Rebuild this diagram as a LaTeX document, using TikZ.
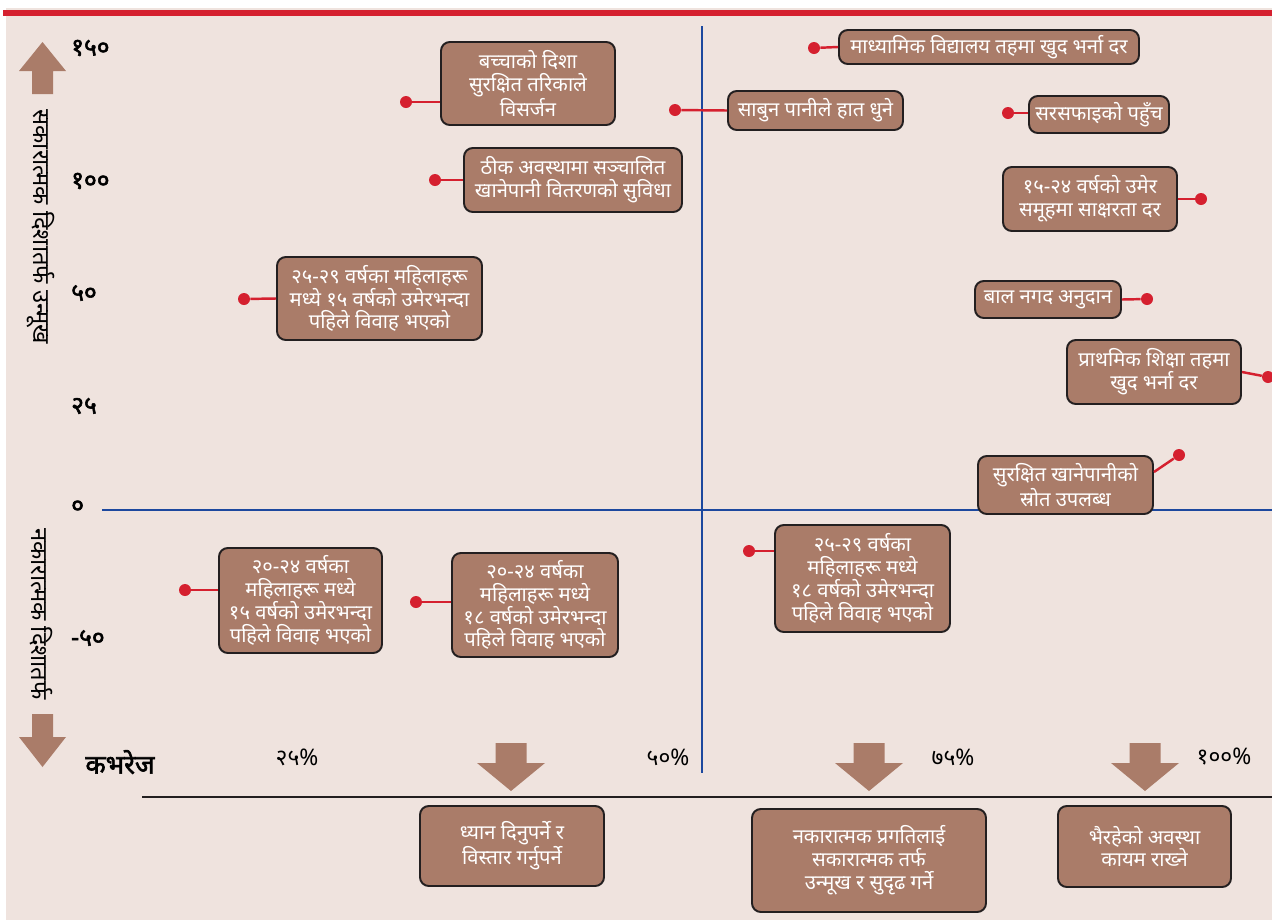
\documentclass[tikz,border=0pt]{standalone}
\usepackage{fontspec}
\setmainfont[Script=Devanagari]{Noto Sans}
\newfontfamily\heavyfont[Script=Devanagari, FakeBold=2.2]{Noto Sans}
\usetikzlibrary{positioning}
\definecolor{paper}{RGB}{239,227,222}
\definecolor{boxbrown}{RGB}{170,124,105}
\definecolor{leadred}{RGB}{213,32,47}
\definecolor{axisblue}{RGB}{28,72,158}
\definecolor{edge}{RGB}{35,31,32}
\newdimen\unitpx \unitpx=0.02cm
\tikzstyle{infobox} = [draw=edge, line width=1.1pt, fill=boxbrown, rounded corners=5pt, text=white, align=center, inner sep=2pt, font=\fontsize{11.5}{13}\selectfont]
\tikzstyle{endpt} = [circle, fill=leadred, inner sep=0pt, minimum size=12\unitpx]
\tikzstyle{lead} = [draw=leadred, line width=1.4pt]
\tikzstyle{axislabel} = [anchor=west, font=\heavyfont\fontsize{14}{16}\selectfont]
\tikzstyle{pct} = [font=\fontsize{13}{15}\selectfont]
\tikzstyle{sidelabel} = [rotate=-90, font=\fontsize{13.5}{15}\selectfont]
\tikzset{pics/dropdown/.style={code={
	\fill[boxbrown] (-15.5,0) -- (15.5,0) -- (15.5,20) -- (34,20) -- (0,48) -- (-34,20) -- (-15.5,20) -- cycle;
}}}

\begin{document}
\begin{tikzpicture}[x=0.02cm, y=-0.02cm]
		\useasboundingbox (0,0) rectangle (1272,920);
		\fill[paper] (6,8) rectangle (1272,920);
		\draw[leadred, line width=6\unitpx] (3,13) -- (1272,13);

		\draw[axisblue, line width=1.3pt] (702,26) -- (702,773);
		\draw[axisblue, line width=1.3pt] (102,510) -- (1272,510);
		\draw[edge, line width=0.8pt] (142,797) -- (1272,797);

		\fill[boxbrown] (42.5,42) -- (66,71) -- (53,71) -- (53,94) -- (32,94) -- (32,71) -- (19,71) -- cycle;
		\fill[boxbrown] (32,714) -- (53,714) -- (53,737) -- (66,737) -- (42.5,767) -- (19,737) -- (32,737) -- cycle;
		\node (uplabel) [sidelabel] at (41,227) {सकारात्मक दिशातर्फ उन्मूख};
		\node (downlabel) [sidelabel] at (41,614) {नकारात्मक दिशातर्फ};

		\node (y150) [axislabel] at (65,48) {१५०};
		\node (y100) [axislabel] at (65,181) {१००};
		\node (y50) [axislabel] at (65,293) {५०};
		\node (y25) [axislabel] at (65,406) {२५};
		\node (y0) [axislabel] at (65,507) {०};
		\node (ym50) [axislabel] at (65,638) {-५०};

		\node (xtitle) [font=\heavyfont\fontsize{15}{17}\selectfont] at (120,762) {कभरेज};
		\node (x25) [pct] at (297,757) {२५\%};
		\node (x50) [pct] at (668,757) {५०\%};
		\node (x75) [pct] at (953,757) {७५\%};
		\node (x100) [pct] at (1224,757) {१००\%};

		\node (bwaste) [infobox, minimum width=174\unitpx, minimum height=83\unitpx] at (528,83.5) {बच्चाको दिशा\\सुरक्षित तरिकाले\\विसर्जन};
		\node (bsupply) [infobox, minimum width=218\unitpx, minimum height=64\unitpx] at (573,180) {ठीक अवस्थामा सञ्चालित\\खानेपानी वितरणको सुविधा};
		\node (bsoap) [infobox, minimum width=175\unitpx, minimum height=39\unitpx] at (815.5,110.5) {साबुन पानीले हात धुने};
		\node (bsecondary) [infobox, minimum width=300\unitpx, minimum height=34\unitpx] at (989,47) {माध्यामिक विद्यालय तहमा खुद भर्ना दर};
		\node (bsanit) [infobox, minimum width=140\unitpx, minimum height=37\unitpx] at (1099,114.5) {सरसफाइको पहुँच};
		\node (bliteracy) [infobox, minimum width=174\unitpx, minimum height=64\unitpx] at (1090,199) {१५-२४ वर्षको उमेर\\समूहमा साक्षरता दर};
		\node (bwed2529a) [infobox, minimum width=205\unitpx, minimum height=83\unitpx] at (379.5,298.5) {२५-२९ वर्षका महिलाहरू\\मध्ये १५ वर्षको उमेरभन्दा\\पहिले विवाह भएको};
		\node (bgrant) [infobox, minimum width=146\unitpx, minimum height=37\unitpx] at (1048,299.5) {बाल नगद अनुदान};
		\node (bprimary) [infobox, minimum width=174\unitpx, minimum height=64\unitpx] at (1154,372) {प्राथमिक शिक्षा तहमा\\खुद भर्ना दर};
		\node (bwater) [infobox, minimum width=175\unitpx, minimum height=58\unitpx] at (1065.5,485) {सुरक्षित खानेपानीको\\स्रोत उपलब्ध};
		\node (bwed2024a) [infobox, minimum width=163\unitpx, minimum height=105\unitpx] at (300.5,600.5) {२०-२४ वर्षका\\महिलाहरू मध्ये\\१५ वर्षको उमेरभन्दा\\पहिले विवाह भएको};
		\node (bwed2024b) [infobox, minimum width=166\unitpx, minimum height=104\unitpx] at (535,605) {२०-२४ वर्षका\\महिलाहरू मध्ये\\१८ वर्षको उमेरभन्दा\\पहिले विवाह भएको};
		\node (bwed2529b) [infobox, minimum width=175\unitpx, minimum height=107\unitpx] at (862.5,578.5) {२५-२९ वर्षका\\महिलाहरू मध्ये\\१८ वर्षको उमेरभन्दा\\पहिले विवाह भएको};

		\node (dwaste) [endpt] at (406,102) {};
		\node (dsupply) [endpt] at (435,180) {};
		\node (dsoap) [endpt] at (675,110) {};
		\node (dsecondary) [endpt] at (814,48) {};
		\node (dsanit) [endpt] at (1008,113) {};
		\node (dliteracy) [endpt] at (1201,199) {};
		\node (dwed2529a) [endpt] at (244,299) {};
		\node (dgrant) [endpt] at (1147,299) {};
		\node (dprimary) [endpt] at (1268,377) {};
		\node (dwater) [endpt] at (1179,455) {};
		\node (dwed2024a) [endpt] at (185,590) {};
		\node (dwed2024b) [endpt] at (416,602) {};
		\node (dwed2529b) [endpt] at (749,551) {};

		\draw[lead] (dwaste) -- (dwaste -| bwaste.west);
		\draw[lead] (dsupply) -- (bsupply.west);
		\draw[lead] (dsoap) -- (bsoap.west);
		\draw[lead] (dsecondary) -- (bsecondary.west);
		\draw[lead] (dsanit) -- (dsanit -| bsanit.west);
		\draw[lead] (bliteracy.east) -- (dliteracy);
		\draw[lead] (dwed2529a) -- (bwed2529a.west);
		\draw[lead] (bgrant.east) -- (dgrant);
		\draw[lead] (bprimary.east) -- (dprimary);
		\draw[lead] ([yshift=0.26cm]bwater.east) -- (dwater);
		\draw[lead] (dwed2024a) -- (dwed2024a -| bwed2024a.west);
		\draw[lead] (dwed2024b) -- (dwed2024b -| bwed2024b.west);
		\draw[lead] (dwed2529b) -- (dwed2529b -| bwed2529b.west);

		\pic at (511,743) {dropdown};
		\pic at (869,743) {dropdown};
		\pic at (1145,743) {dropdown};

		\node (bfocus) [infobox, minimum width=184\unitpx, minimum height=80\unitpx] at (512,846) {ध्यान दिनुपर्ने र\\विस्तार गर्नुपर्ने};
		\node (bturn) [infobox, minimum width=234\unitpx, minimum height=103\unitpx] at (869,860.5) {नकारात्मक प्रगतिलाई\\सकारात्मक तर्फ\\उन्मूख र सुदृढ गर्ने};
		\node (bkeep) [infobox, minimum width=173\unitpx, minimum height=81\unitpx] at (1144.5,846.5) {भैरहेको अवस्था\\कायम राख्ने};
	\end{tikzpicture}
\end{document}
